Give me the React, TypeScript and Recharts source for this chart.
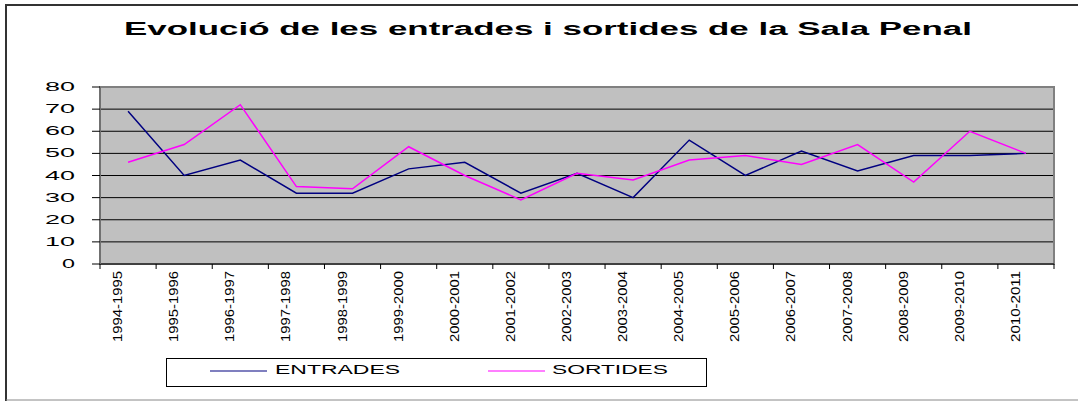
import React from 'react';
import { LineChart, Line, XAxis, YAxis, CartesianGrid, Legend, ReferenceArea } from 'recharts';

const categories = [
  '1994-1995', '1995-1996', '1996-1997', '1997-1998', '1998-1999', '1999-2000',
  '2000-2001', '2001-2002', '2002-2003', '2003-2004', '2004-2005', '2005-2006',
  '2006-2007', '2007-2008', '2008-2009', '2009-2010', '2010-2011',
];
const entrades = [69, 40, 47, 32, 32, 43, 46, 32, 41, 30, 56, 40, 51, 42, 49, 49, 50];
const sortides = [46, 54, 72, 35, 34, 53, 40, 29, 41, 38, 47, 49, 45, 54, 37, 60, 50];
const yTicks = [0, 10, 20, 30, 40, 50, 60, 70, 80];

const data = categories.map((periode, i) => ({
  periode,
  entrades: entrades[i],
  sortides: sortides[i],
}));

const W = 1078;
const H = 401;
const M = { top: 87, right: 24, left: 40, bottom: 57 };
const Y_AXIS_W = 60;
const plotW = W - M.left - Y_AXIS_W - M.right;
const band = plotW / categories.length;
const font = '"Liberation Sans", Arial, sans-serif';

const XTick = (props: any) => {
  const { x, y, payload, index } = props;
  const last = index === categories.length - 1;
  return (
    <g>
      <line x1={x - band / 2} y1={y} x2={x - band / 2} y2={y + 5} stroke="#000" />
      {last && <line x1={x + band / 2} y1={y} x2={x + band / 2} y2={y + 5} stroke="#000" />}
      <text
        x={x - 6}
        y={y + 78}
        transform={`rotate(-90, ${x - 6}, ${y + 78})`}
        textAnchor="start"
        fontFamily={font}
        fontSize={13}
        fill="#000"
        textLength={71}
        lengthAdjust="spacingAndGlyphs"
      >
        {payload.value}
      </text>
    </g>
  );
};

const YTick = (props: any) => {
  const { x, y, payload } = props;
  const label = String(payload.value);
  return (
    <g>
      <line x1={x - 8} y1={y} x2={x} y2={y} stroke="#000" />
      <text
        x={x - 25}
        y={y + 4}
        textAnchor="end"
        fontFamily={font}
        fontSize={12}
        fill="#000"
        textLength={label.length === 1 ? 13 : 30}
        lengthAdjust="spacingAndGlyphs"
      >
        {label}
      </text>
    </g>
  );
};

const LegendBox = () => (
  <svg width={541} height={29} style={{ display: 'block' }}>
    <rect x={0.5} y={0.5} width={540} height={28} fill="#fff" stroke="#000" />
    <line x1={44} y1={13} x2={101} y2={13} stroke="#000080" strokeWidth={1.2} />
    <text x={109} y={16} fontFamily={font} fontSize={12} textLength={125} lengthAdjust="spacingAndGlyphs">
      ENTRADES
    </text>
    <line x1={322} y1={13} x2={379} y2={13} stroke="#FF00FF" strokeWidth={1.2} />
    <text x={386} y={16} fontFamily={font} fontSize={12} textLength={116} lengthAdjust="spacingAndGlyphs">
      SORTIDES
    </text>
  </svg>
);

export default function App() {
  return (
    <div style={{ position: 'absolute', left: 0, top: 0, width: W, height: H, background: '#fff' }}>
      <LineChart width={W} height={H} data={data} margin={M}>
        <CartesianGrid vertical={false} stroke="#000" fill="#C0C0C0" fillOpacity={1} />
        <ReferenceArea y1={0} y2={80} fill="none" stroke="#808080" strokeWidth={2} ifOverflow="visible" />
        <XAxis
          dataKey="periode"
          scale="band"
          interval={0}
          height={80}
          tickLine={false}
          tickSize={0}
          tickMargin={0}
          axisLine={{ stroke: '#000' }}
          tick={<XTick />}
        />
        <YAxis
          domain={[0, 80]}
          ticks={yTicks}
          interval={0}
          width={Y_AXIS_W}
          tickLine={false}
          tickSize={0}
          tickMargin={0}
          axisLine={{ stroke: '#707070', strokeWidth: 2 }}
          tick={<YTick />}
        />
        <Legend
          layout="horizontal"
          verticalAlign="middle"
          align="center"
          content={<LegendBox />}
          wrapperStyle={{ left: 166, top: 358, width: 541, height: 29 }}
        />
        <Line
          type="linear"
          dataKey="entrades"
          name="ENTRADES"
          stroke="#000080"
          strokeWidth={1.5}
          dot={false}
          isAnimationActive={false}
        />
        <Line
          type="linear"
          dataKey="sortides"
          name="SORTIDES"
          stroke="#FF00FF"
          strokeWidth={1.5}
          dot={false}
          isAnimationActive={false}
        />
      </LineChart>
      <svg
        width={W}
        height={H}
        style={{ position: 'absolute', left: 0, top: 0, pointerEvents: 'none' }}
      >
        <line x1={5} y1={5} x2={W} y2={5} stroke="#333" strokeWidth={2} />
        <line x1={6} y1={4} x2={6} y2={H} stroke="#333" strokeWidth={2} />
        <line x1={6} y1={400} x2={W} y2={400} stroke="#888" strokeWidth={1} />
        <text
          x={124}
          y={35}
          fontFamily={font}
          fontWeight="bold"
          fontSize={18}
          fill="#000"
          textLength={848}
          lengthAdjust="spacingAndGlyphs"
        >
          Evolució de les entrades i sortides de la Sala Penal
        </text>
      </svg>
    </div>
  );
}
